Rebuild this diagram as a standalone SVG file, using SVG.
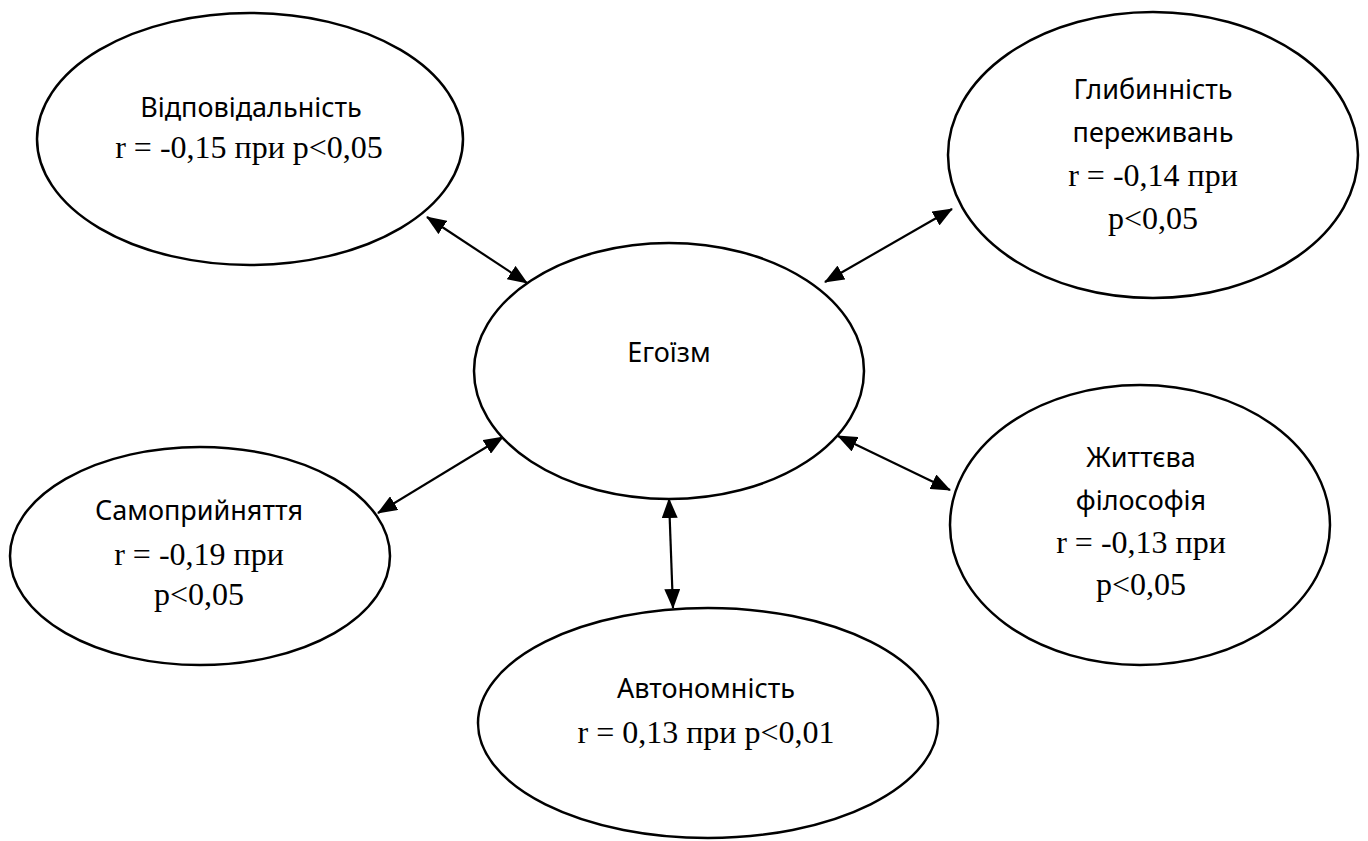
<svg xmlns="http://www.w3.org/2000/svg" width="1368" height="841" viewBox="0 0 1368 841">
<style>
.node ellipse{fill:#fff;stroke:#000;stroke-width:2.5}
.sans{font-family:"Noto Sans","Open Sans","DejaVu Sans",sans-serif;font-size:27px;fill:#000;text-anchor:middle}
.serif{font-family:"Liberation Serif","Times New Roman",serif;font-size:32px;fill:#000;text-anchor:middle}
.conn path{fill:none;stroke:#000;stroke-width:2.2;marker-start:url(#ah);marker-end:url(#ah)}
</style>
<defs>
<marker id="ah" viewBox="0 0 20 16" markerWidth="20" markerHeight="16" refX="19" refY="8" orient="auto-start-reverse" markerUnits="userSpaceOnUse">
<path d="M0,0 L20,8 L0,16 z" fill="#000"/>
</marker>
</defs>
<rect width="1368" height="841" fill="#fff"/>
<g id="connectors" class="conn">
<path d="M427,217 L527,283"/>
<path d="M825,282 L952,209"/>
<path d="M378,513 L503,437"/>
<path d="M838,436 L950,490"/>
<path d="M669,499 L673,608"/>
</g>
<g id="vidpovidalnist" class="node">
<ellipse cx="250" cy="139" rx="213" ry="126"/>
<text class="sans" x="251" y="117">Відповідальність</text>
<text class="serif" x="249" y="158">r = -0,15 при р&lt;0,05</text>
</g>
<g id="hlybynnist" class="node">
<ellipse cx="1153" cy="155" rx="205" ry="143"/>
<text class="sans" x="1153" y="99">Глибинність</text>
<text class="sans" x="1153" y="142">переживань</text>
<text class="serif" x="1153" y="186">r = -0,14 при</text>
<text class="serif" x="1153" y="229">р&lt;0,05</text>
</g>
<g id="egoizm" class="node">
<ellipse cx="669" cy="371" rx="195" ry="128"/>
<text class="sans" x="669" y="362">Егоїзм</text>
</g>
<g id="samopryiniattia" class="node">
<ellipse cx="200" cy="556" rx="190" ry="109"/>
<text class="sans" x="199" y="520">Самоприйняття</text>
<text class="serif" x="199" y="565">r = -0,19 при</text>
<text class="serif" x="199" y="605">р&lt;0,05</text>
</g>
<g id="zhyttieva" class="node">
<ellipse cx="1140" cy="525" rx="190" ry="140"/>
<text class="sans" x="1141" y="467">Життєва</text>
<text class="sans" x="1141" y="510">філософія</text>
<text class="serif" x="1141" y="553">r = -0,13 при</text>
<text class="serif" x="1141" y="595">р&lt;0,05</text>
</g>
<g id="avtonomnist" class="node">
<ellipse cx="708" cy="723" rx="230" ry="115"/>
<text class="sans" x="706" y="698">Автономність</text>
<text class="serif" x="706" y="743">r = 0,13 при р&lt;0,01</text>
</g>
</svg>
